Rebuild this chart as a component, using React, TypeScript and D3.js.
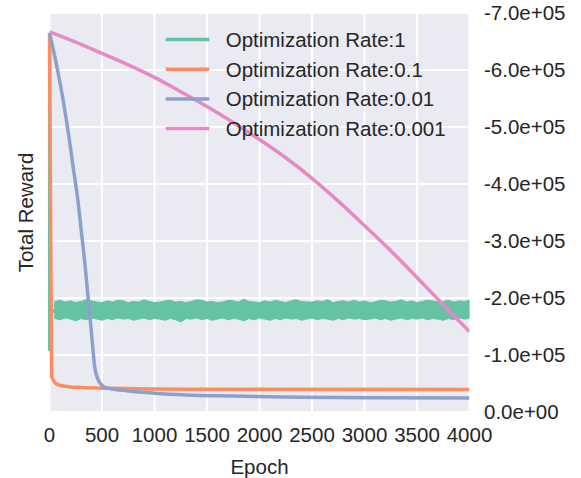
import { scaleLinear, line, area, curveMonotoneX, curveLinear } from "d3";

const xTicks = [0, 500, 1000, 1500, 2000, 2500, 3000, 3500, 4000];
const yTicks = [0, -1e5, -2e5, -3e5, -4e5, -5e5, -6e5, -7e5];

const legendLabels = [
    "Optimization Rate:1",
    "Optimization Rate:0.1",
    "Optimization Rate:0.01",
    "Optimization Rate:0.001"
];
const colors = ["#66c2a5", "#fc8d62", "#8da0cb", "#e78ac3"];

// rate 0.001
const pinkEpochs = [0, 250, 500, 750, 1000, 1250, 1500, 1750, 2000, 2250, 2500, 2750, 3000, 3250, 3500, 3750, 4000];
const pinkValues = [-6.67e5, -6.49e5, -6.29e5, -6.09e5, -5.87e5, -5.62e5, -5.36e5, -5.08e5, -4.78e5, -4.46e5, -4.1e5, -3.7e5, -3.27e5, -2.83e5, -2.36e5, -1.88e5, -1.41e5];

// rate 0.01
const blueEpochs = [0, 70, 130, 180, 225, 270, 305, 340, 370, 400, 430, 465, 500, 530, 750, 1000, 1300, 1750, 2400, 3200, 4000];
const blueValues = [-6.65e5, -6.06e5, -5.47e5, -4.89e5, -4.3e5, -3.72e5, -3.14e5, -2.55e5, -1.96e5, -1.38e5, -0.8e5, -0.56e5, -0.47e5, -0.43e5, -0.37e5, -0.33e5, -0.3e5, -0.28e5, -0.26e5, -0.25e5, -0.245e5];

// rate 0.1: steep initial drop, then slow decay
const orangeDropEpochs = [0, 20];
const orangeDropValues = [-6.65e5, -0.62e5];
const orangeEpochs = [20, 60, 120, 200, 300, 600, 1300, 2000, 4000];
const orangeValues = [-0.62e5, -0.5e5, -0.46e5, -0.44e5, -0.43e5, -0.415e5, -0.4e5, -0.4e5, -0.395e5];

// rate 1: initial drop, then a noisy band (upper / lower edges every 50 epochs from 50)
const greenStartEpochs = [0, 2, 6, 50];
const greenStartValues = [-6.65e5, -1.09e5, -1.76e5, -1.78e5];
const greenStep = 50;
const greenUpper = [
    1.94, 1.96, 1.93, 1.95, 1.92, 1.94, 1.97, 1.95, 1.93, 1.92,
    1.95, 1.93, 1.96, 1.95, 1.92, 1.94, 1.93, 1.97, 1.94, 1.92,
    1.93, 1.95, 1.96, 1.93, 1.94, 1.92, 1.94, 1.97, 1.96, 1.93,
    1.94, 1.92, 1.93, 1.96, 1.95, 1.93, 1.98, 1.94, 1.93, 1.92,
    1.95, 1.93, 1.96, 1.94, 1.92, 1.95, 1.97, 1.94, 1.93, 1.93,
    1.95, 1.94, 1.97, 1.92, 1.94, 1.95, 1.93, 1.96, 1.93, 1.95,
    1.92, 1.93, 1.96, 1.95, 1.93, 1.94, 1.97, 1.93, 1.95, 1.92,
    1.94, 1.96, 1.95, 1.93, 1.94, 1.96, 1.93, 1.95, 1.94, 1.96
].map(v => -v * 1e5);
const greenLower = [
    1.64, 1.62, 1.65, 1.63, 1.60, 1.64, 1.62, 1.65, 1.63, 1.61,
    1.64, 1.62, 1.65, 1.63, 1.64, 1.61, 1.63, 1.65, 1.62, 1.64,
    1.63, 1.61, 1.64, 1.62, 1.58, 1.64, 1.63, 1.65, 1.62, 1.64,
    1.61, 1.63, 1.65, 1.62, 1.64, 1.63, 1.60, 1.64, 1.62, 1.65,
    1.63, 1.61, 1.64, 1.62, 1.65, 1.63, 1.64, 1.61, 1.63, 1.65,
    1.62, 1.64, 1.63, 1.61, 1.64, 1.62, 1.65, 1.63, 1.64, 1.62,
    1.63, 1.65, 1.62, 1.64, 1.61, 1.63, 1.65, 1.62, 1.64, 1.63,
    1.65, 1.62, 1.64, 1.63, 1.61, 1.64, 1.62, 1.65, 1.63, 1.64
].map(v => -v * 1e5);

const font = "'Liberation Sans', Arial, sans-serif";
const textColor = "#262626";

function sci(v: number) {
    const s = v.toExponential(1);
    return s.replace(/e([+-])(\d)$/, "e$10$2");
}

function zip(xs: number[], ys: number[]) {
    return xs.map((x, i) => [x, ys[i]] as [number, number]);
}

export default function App() {
    const W = 581;
    const H = 478;
    const left = 49.5, right = 469.5, top = 13, bottom = 412;

    const x = scaleLinear().domain([0, 4000]).range([left, right]);
    const y = scaleLinear().domain([0, -7e5]).range([bottom, top]);

    const smooth = line<[number, number]>()
        .x(d => x(d[0]))
        .y(d => y(d[1]))
        .curve(curveMonotoneX);
    const straight = line<[number, number]>()
        .x(d => x(d[0]))
        .y(d => y(d[1]))
        .curve(curveLinear);

    const band = greenUpper.map((u, i) => ({ e: (i + 1) * greenStep, u, l: greenLower[i] }));
    const bandArea = area<{ e: number; u: number; l: number }>()
        .x(d => x(d.e))
        .y0(d => y(d.l))
        .y1(d => y(d.u));

    const orangePath = (straight(zip(orangeDropEpochs, orangeDropValues)) ?? "") +
        (smooth(zip(orangeEpochs, orangeValues)) ?? "").replace(/^M/, "L");

    const legendY = [39.5, 69.3, 99, 128.5];

    return (
        <svg width={W} height={H} style={{ display: "block" }}>
            <style>{`body{margin:0}`}</style>
            <rect x={0} y={0} width={W} height={H} fill="#ffffff" />
            <defs>
                <clipPath id="plot">
                    <rect x={left - 2} y={top} width={right - left + 2} height={bottom - top} />
                </clipPath>
            </defs>
            <rect x={left} y={top} width={right - left} height={bottom - top} fill="#eaeaf2" />
            {xTicks.map(t => (
                <line key={`gx${t}`} x1={x(t)} x2={x(t)} y1={top} y2={bottom} stroke="#fff" strokeWidth={2} />
            ))}
            {yTicks.map(t => (
                <line key={`gy${t}`} x1={left} x2={right} y1={y(t)} y2={y(t)} stroke="#fff" strokeWidth={2} />
            ))}

            <g clipPath="url(#plot)" fill="none" strokeWidth={3.5} strokeLinejoin="round">
                <path d={bandArea(band) ?? ""} fill={colors[0]} stroke={colors[0]} strokeWidth={1} />
                <path d={straight(zip(greenStartEpochs, greenStartValues)) ?? ""} stroke={colors[0]} />
                <path d={orangePath} stroke={colors[1]} />
                <path d={smooth(zip(blueEpochs, blueValues)) ?? ""} stroke={colors[2]} />
                <path d={smooth(zip(pinkEpochs, pinkValues)) ?? ""} stroke={colors[3]} />
            </g>

            <g fontFamily={font} fontSize={20.5} fill={textColor}>
                {xTicks.map(t => (
                    <text key={`tx${t}`} x={x(t)} y={441.7} textAnchor="middle">{t}</text>
                ))}
                {yTicks.map(t => (
                    <text key={`ty${t}`} x={484} y={y(t) + 7.3}>{sci(t)}</text>
                ))}
                <text x={(left + right) / 2} y={473.5} textAnchor="middle">Epoch</text>
                <text transform={`translate(33, ${(top + bottom) / 2}) rotate(-90)`} textAnchor="middle">Total Reward</text>

                {legendLabels.map((label, i) => (
                    <g key={label}>
                        <line x1={165.7} x2={209.3} y1={legendY[i]} y2={legendY[i]} stroke={colors[i]} strokeWidth={3.5} />
                        <text x={225.7} y={legendY[i] + 7.3}>{label}</text>
                    </g>
                ))}
            </g>
        </svg>
    );
}
